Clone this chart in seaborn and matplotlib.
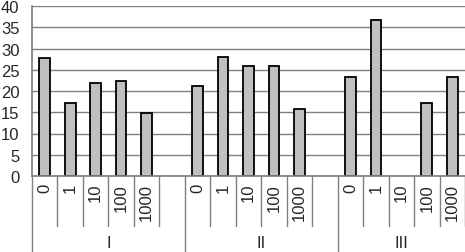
import numpy as np
import pandas as pd
import matplotlib
matplotlib.use("Agg")
import matplotlib.pyplot as plt
import matplotlib.transforms as mtransforms
import seaborn as sns

groups = ["I", "II", "III"]
doses = ["0", "1", "10", "100", "1000"]
vals_I = [27.7, 17.2, 21.8, 22.4, 14.8]
vals_II = [21.2, 27.9, 25.8, 26.0, 15.7]
vals_III = [23.3, 36.8, np.nan, 17.1, 23.3]
yticks = [0, 5, 10, 15, 20, 25, 30, 35, 40]

sns.set_theme(style="white")
plt.rcParams['font.family'] = ['Liberation Sans', 'DejaVu Sans']

keys, vals, labels, grp_of = [], [], [], []
all_vals = [vals_I, vals_II, vals_III]
for gi, g in enumerate(groups):
    for d, v in zip(doses, all_vals[gi]):
        keys.append(f"{g}-{d}")
        vals.append(v)
        labels.append(d)
        grp_of.append(gi)
    if gi < len(groups) - 1:
        keys.append(f"{g}-gap")
        vals.append(np.nan)
        labels.append("")
        grp_of.append(gi)
df = pd.DataFrame({"key": keys, "value": vals})

fs = 12
fig = plt.figure(figsize=(4.65, 2.53), dpi=100)
ax = fig.add_axes([32/465, (253-177)/253, (465-32)/465, 170/253])
sns.barplot(data=df, x="key", y="value", order=keys, color="#c0c0c0",
            saturation=1, width=0.42, edgecolor="black", linewidth=1.3, ax=ax)
ax.set_ylim(0, 40)
ax.set_xlim(-0.5, len(keys) - 0.5)
ax.set_yticks(yticks)
ax.set_yticklabels([str(t) for t in yticks], fontsize=fs)
ax.tick_params(axis='y', length=0, pad=9)
ax.yaxis.grid(True, color="#808080", linewidth=1.0)
ax.set_axisbelow(True)
ax.set_xlabel("")
ax.set_ylabel("")
for s in ["top", "right"]:
    ax.spines[s].set_visible(False)
ax.spines["left"].set_color("#808080")
ax.spines["bottom"].set_color("#808080")
ax.set_xticks(range(len(keys)))
ax.set_xticklabels(labels, rotation=90, fontsize=fs)
ax.tick_params(axis='x', length=0, pad=5)

trans = mtransforms.blended_transform_factory(ax.transData, ax.transAxes)
h = 170.0
short_y = -(227 - 177) / h
long_y = -(253 - 177) / h
group_starts = [0]
for i in range(1, len(keys)):
    if grp_of[i] != grp_of[i - 1]:
        group_starts.append(i)
for i in range(len(keys) + 1):
    xb = i - 0.5
    is_long = i in group_starts
    ax.plot([xb, xb], [0, long_y if is_long else short_y], transform=trans,
            color="#808080", linewidth=1.0, clip_on=False)
bounds = group_starts + [len(keys)]
for gi, g in enumerate(groups):
    a = bounds[gi]
    b = bounds[gi + 1]
    center = (a + b - 1) / 2
    ax.text(center, -(244 - 177) / h, g, transform=trans, ha="center",
            va="center", fontsize=fs)

fig.savefig("out.png", dpi=100)
